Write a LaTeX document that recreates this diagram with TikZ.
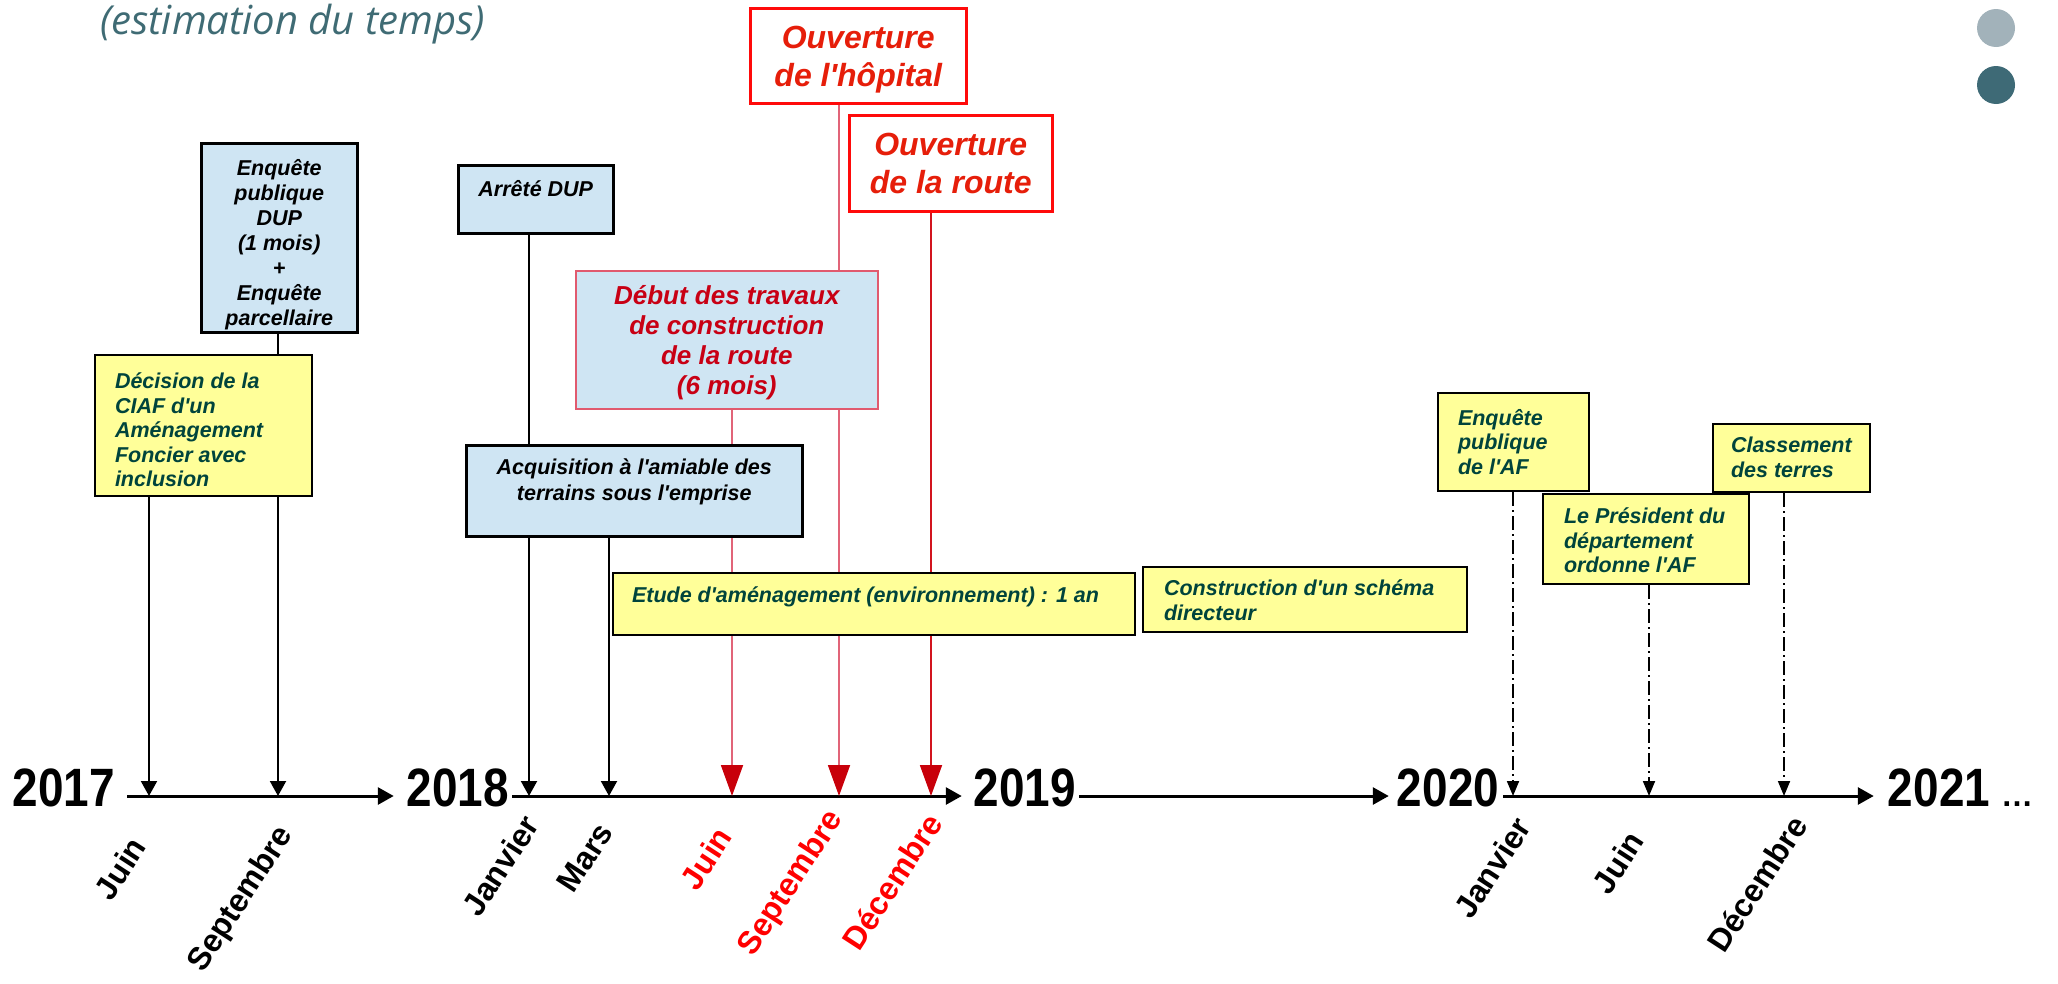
\documentclass[tikz,border=0pt]{standalone}
\usepackage{fontspec}
\setmainfont{Liberation Sans}
\newfontfamily\nf{Liberation Sans}
\newfontfamily\yf[FakeStretch=0.85]{Liberation Sans}
\newfontfamily\tf{Open Sans}
\usetikzlibrary{arrows.meta}
\definecolor{titleteal}{RGB}{63,107,116}
\definecolor{circlight}{RGB}{162,178,186}
\definecolor{circdark}{RGB}{62,106,118}
\definecolor{boxblue}{RGB}{207,229,243}
\definecolor{boxyellow}{RGB}{255,255,153}
\definecolor{yeltext}{RGB}{0,68,60}
\definecolor{ouvred}{RGB}{230,30,10}
\definecolor{boxred}{RGB}{255,10,10}
\definecolor{debtext}{RGB}{200,0,20}
\definecolor{debborder}{RGB}{225,90,110}
\definecolor{monthred}{RGB}{255,0,0}
\definecolor{arrowred}{RGB}{200,0,10}
\definecolor{pinkline}{RGB}{225,100,120}
\definecolor{redline}{RGB}{210,20,30}
\newcommand\bx[4]{\parbox[c][#2][t]{#1}{\vspace*{#3}#4\par}}
\pgfdeclarelayer{bg}
\pgfsetlayers{bg,main}
\tikzset{
 anybox/.style={inner sep=0pt, anchor=north west},
 bluebox/.style={anybox, draw=black, line width=2.5pt, fill=boxblue, text=black, font=\nf\bfseries\itshape\fontsize{21.5}{25}\selectfont},
 yelbox/.style={anybox, draw=black, line width=2pt, fill=boxyellow, text=yeltext, font=\nf\bfseries\itshape\fontsize{21.5}{24.5}\selectfont},
 redbox/.style={anybox, draw=boxred, line width=2.5pt, fill=white, text=ouvred, font=\nf\bfseries\itshape\fontsize{32}{38}\selectfont},
 debbox/.style={anybox, draw=debborder, line width=1.6pt, fill=boxblue, text=debtext, font=\nf\bfseries\itshape\fontsize{26}{30}\selectfont},
 conn/.style={line width=2pt, -{Triangle[width=16pt,length=15pt]}},
 redconn/.style={line width=1.8pt, -{Triangle[width=22pt,length=31pt,color=arrowred]}},
 ddconn/.style={line width=1.8pt, dash pattern=on 14pt off 4pt on 2pt off 4pt, -{Triangle[width=12pt,length=15pt]}},
 axisline/.style={line width=3pt, -{Triangle[width=17pt,length=16pt]}},
 month/.style={rotate=57, anchor=north east, inner sep=0pt, font=\fontsize{32}{32}\selectfont\bfseries},
 year/.style={inner sep=0pt, font=\yf\fontsize{54}{54}\selectfont\bfseries},
}
\begin{document}
\begin{tikzpicture}[x=1pt,y=-1pt]
\useasboundingbox (0,0) rectangle (2058,983);
% title and decorations
\node[anchor=base west, inner sep=0pt, text=titleteal, font=\tf\itshape\fontsize{40}{40}\selectfont] (title) at (100,34) {(estimation du temps)};
\fill[circlight] (1996,28) circle[radius=19pt];
\fill[circdark] (1996,85) circle[radius=19pt];

% axis ticks
\coordinate (ax) at (0,796);
\coordinate (jun17) at (149,796);
\coordinate (sep17) at (278,796);
\coordinate (jan18) at (529,796);
\coordinate (mar18) at (609,796);
\coordinate (jun18) at (732,796);
\coordinate (sep18) at (839,796);
\coordinate (dec18) at (931,796);
\coordinate (jan20) at (1513,796);
\coordinate (jun20) at (1649,796);
\coordinate (dec20) at (1784,796);

% years
\node[year] (y2017) at (64,788) {2017};
\node[year] (y2018) at (458,788) {2018};
\node[year] (y2019) at (1025,788) {2019};
\node[year] (y2020) at (1448,788) {2020};
\node[year] (y2021) at (1939,788) {2021};
\node[anchor=base west, inner sep=0pt, font=\fontsize{32}{32}\selectfont\bfseries] (dots) at (2001,806) {…};

% boxes
\node[redbox] (hop) at (749,7) {\bx{216pt}{95pt}{18pt}{\centering Ouverture\\de l'hôpital}};
\node[redbox] (route) at (848,114) {\bx{203pt}{96pt}{18pt}{\centering Ouverture\\de la route}};
\node[bluebox] (enqdup) at (200,142) {\bx{156pt}{189pt}{16pt}{\centering Enquête\\publique\\DUP\\(1 mois)\\+\\Enquête\\parcellaire}};
\node[bluebox] (arrete) at (457,164) {\bx{155pt}{68pt}{15pt}{\centering Arrêté DUP}};
\node[debbox] (debut) at (575,270) {\bx{302pt}{138pt}{15pt}{\centering Début des travaux\\de construction\\de la route\\(6 mois)}};
\node[yelbox] (decision) at (94,354) {\bx{217pt}{141pt}{18pt}{\raggedright\leftskip=20pt Décision de la\\CIAF d'un\\Aménagement\\Foncier avec\\inclusion}};
\node[bluebox, font=\nf\bfseries\itshape\fontsize{21.5}{26}\selectfont] (acq) at (465,444) {\bx{336pt}{91pt}{13pt}{\centering Acquisition à l'amiable des\\terrains sous l'emprise}};
\node[yelbox] (etude) at (612,572) {\bx{522pt}{62pt}{14pt}{\raggedright\leftskip=19pt Etude d'aménagement (environnement) : 1 an}};
\node[yelbox] (constr) at (1142,566) {\bx{324pt}{65pt}{13pt}{\raggedright\leftskip=21pt Construction d'un schéma\\directeur}};
\node[yelbox] (enqaf) at (1437,392) {\bx{151pt}{98pt}{16pt}{\raggedright\leftskip=20pt Enquête\\publique\\de l'AF}};
\node[yelbox] (pres) at (1542,493) {\bx{206pt}{90pt}{14pt}{\raggedright\leftskip=21pt Le Président du\\département\\ordonne l'AF}};
\node[yelbox] (classe) at (1712,423) {\bx{157pt}{68pt}{13pt}{\raggedright\leftskip=18pt Classement\\des terres}};

% months
\node[month] (mjun17) at (128,834) {Juin};
\node[month] (msep17) at (274,822) {Septembre};
\node[month] (mjan18) at (521,812) {Janvier};
\node[month] (mmar18) at (596,820) {Mars};
\node[month, text=monthred] (mjun18) at (714,824) {Juin};
\node[month, text=monthred] (msep18) at (824,806) {Septembre};
\node[month, text=monthred] (mdec18) at (924,810) {Décembre};
\node[month] (mjan20) at (1513,814) {Janvier};
\node[month] (mjun20) at (1626,828) {Juin};
\node[month] (mdec20) at (1789,812) {Décembre};

\begin{pgfonlayer}{bg}
\draw[axisline, shorten <=12pt, shorten >=13pt] (y2017.east |- ax) -- (y2018.west |- ax);
\draw[axisline, shorten <=3pt, shorten >=12pt] (y2018.east |- ax) -- (y2019.west |- ax);
\draw[axisline, shorten <=3pt, shorten >=8pt] (y2019.east |- ax) -- (y2020.west |- ax);
\draw[axisline, shorten <=4pt, shorten >=14pt] (y2020.east |- ax) -- (y2021.west |- ax);
\draw[conn] (decision.south -| jun17) -- (jun17);
\draw[conn] (enqdup.south -| sep17) -- (sep17);
\draw[conn] (arrete.south -| jan18) -- (jan18);
\draw[conn] (acq.south -| mar18) -- (mar18);
\draw[redconn, draw=pinkline] (debut.south -| jun18) -- (jun18);
\draw[redconn, draw=pinkline] (hop.south -| sep18) -- (sep18);
\draw[redconn, draw=redline] (route.south -| dec18) -- (dec18);
\draw[ddconn] (enqaf.south -| jan20) -- (jan20);
\draw[ddconn] (pres.south -| jun20) -- (jun20);
\draw[ddconn] (classe.south -| dec20) -- (dec20);
\end{pgfonlayer}
\end{tikzpicture}
\end{document}
